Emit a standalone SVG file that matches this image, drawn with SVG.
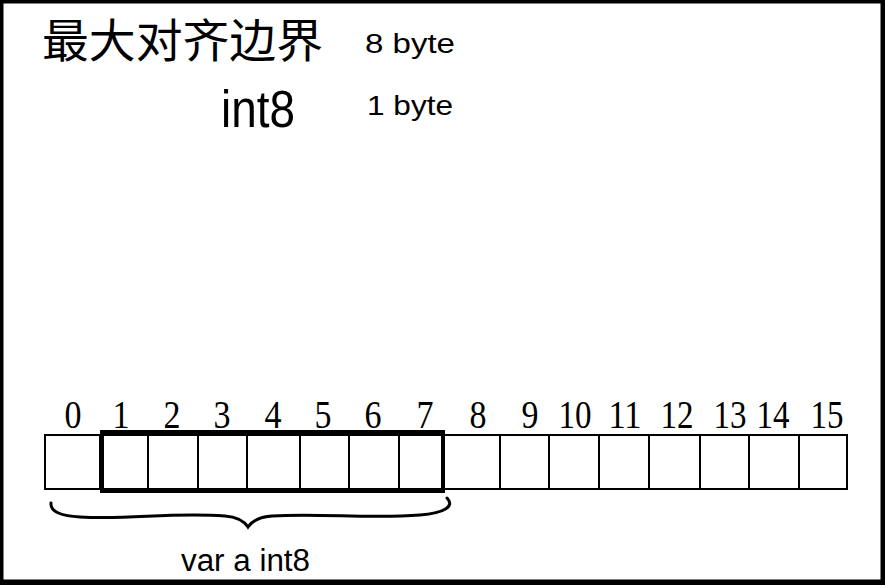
<svg xmlns="http://www.w3.org/2000/svg" width="885" height="585" viewBox="0 0 885 585">
<style>
.cell{fill:#fff;stroke:#000;stroke-width:2}
.idx{font-family:"Liberation Serif",serif;font-size:40px;fill:#000;text-anchor:middle}
.lbl{font-family:"Liberation Sans",sans-serif;fill:#000}
</style>
<rect x="0" y="0" width="885" height="585" fill="#000"/>
<rect x="3.5" y="3.5" width="877" height="576" fill="#fff"/>
<g id="title">
<text x="42" y="57" font-family="'Noto Sans CJK SC',sans-serif" font-size="46" textLength="281" lengthAdjust="spacingAndGlyphs">最大对齐边界</text>
<text class="lbl" x="365" y="53" font-size="27" textLength="90" lengthAdjust="spacingAndGlyphs">8 byte</text>
<text class="lbl" x="221" y="127" font-size="51" textLength="74" lengthAdjust="spacingAndGlyphs">int8</text>
<text class="lbl" x="367" y="115" font-size="28" textLength="86" lengthAdjust="spacingAndGlyphs">1 byte</text>
</g>
<g id="cells">
<rect class="cell" x="45" y="435" width="55" height="54"/>
<rect class="cell" x="100" y="435" width="48" height="54"/>
<rect class="cell" x="148" y="435" width="50" height="54"/>
<rect class="cell" x="198" y="435" width="49" height="54"/>
<rect class="cell" x="247" y="435" width="53" height="54"/>
<rect class="cell" x="300" y="435" width="49" height="54"/>
<rect class="cell" x="349" y="435" width="50" height="54"/>
<rect class="cell" x="399" y="435" width="45" height="54"/>
<rect class="cell" x="444" y="435" width="56" height="54"/>
<rect class="cell" x="500" y="435" width="49" height="54"/>
<rect class="cell" x="549" y="435" width="50" height="54"/>
<rect class="cell" x="599" y="435" width="50" height="54"/>
<rect class="cell" x="649" y="435" width="51" height="54"/>
<rect class="cell" x="700" y="435" width="49" height="54"/>
<rect class="cell" x="749" y="435" width="50" height="54"/>
<rect class="cell" x="799" y="435" width="48" height="54"/>
</g>
<g id="indices">
<text class="idx" x="73" y="428" textLength="17" lengthAdjust="spacingAndGlyphs">0</text>
<text class="idx" x="121" y="428" textLength="17" lengthAdjust="spacingAndGlyphs">1</text>
<text class="idx" x="172" y="428" textLength="17" lengthAdjust="spacingAndGlyphs">2</text>
<text class="idx" x="222" y="428" textLength="17" lengthAdjust="spacingAndGlyphs">3</text>
<text class="idx" x="273" y="428" textLength="17" lengthAdjust="spacingAndGlyphs">4</text>
<text class="idx" x="323" y="428" textLength="17" lengthAdjust="spacingAndGlyphs">5</text>
<text class="idx" x="373" y="428" textLength="17" lengthAdjust="spacingAndGlyphs">6</text>
<text class="idx" x="425" y="428" textLength="17" lengthAdjust="spacingAndGlyphs">7</text>
<text class="idx" x="478" y="428" textLength="17" lengthAdjust="spacingAndGlyphs">8</text>
<text class="idx" x="530" y="428" textLength="17" lengthAdjust="spacingAndGlyphs">9</text>
<text class="idx" x="575" y="428" textLength="33" lengthAdjust="spacingAndGlyphs">10</text>
<text class="idx" x="625" y="428" textLength="33" lengthAdjust="spacingAndGlyphs">11</text>
<text class="idx" x="677" y="428" textLength="33" lengthAdjust="spacingAndGlyphs">12</text>
<text class="idx" x="730" y="428" textLength="33" lengthAdjust="spacingAndGlyphs">13</text>
<text class="idx" x="773" y="428" textLength="33" lengthAdjust="spacingAndGlyphs">14</text>
<text class="idx" x="827" y="428" textLength="33" lengthAdjust="spacingAndGlyphs">15</text>
</g>
<g id="var-a">
<rect x="102" y="432" width="341" height="59" fill="none" stroke="#000" stroke-width="4"/>
<path d="M51,503 C50,512 62,516 80,517 C130,520 170,512 225,516 C238,517 244,521 248,527 C252,521 258,517 272,516 C320,513 370,519 420,515 C445,513 455,506 447,498" fill="none" stroke="#000" stroke-width="3" stroke-linecap="round"/>
<text class="lbl" x="181" y="571" font-size="31" textLength="129" lengthAdjust="spacingAndGlyphs">var a int8</text>
</g>
</svg>
